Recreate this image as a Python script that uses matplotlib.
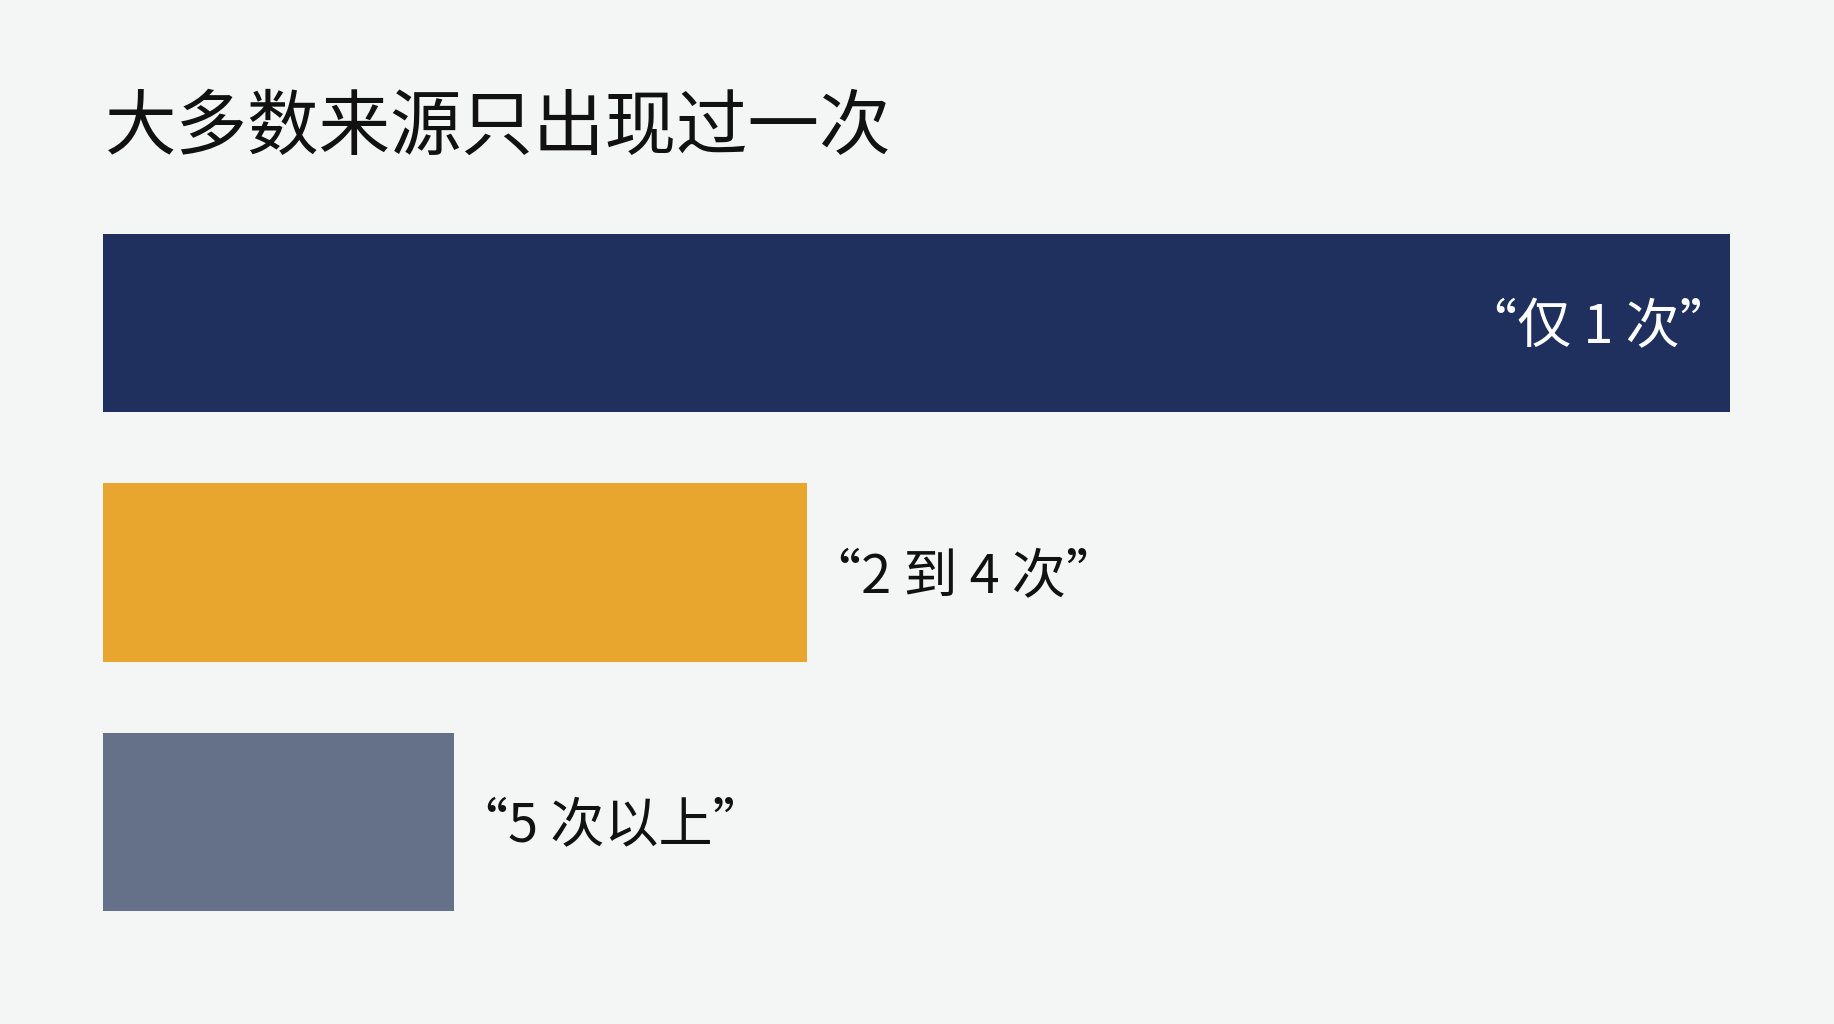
import matplotlib
matplotlib.use("Agg")
import matplotlib.pyplot as plt

plt.rcParams['font.family'] = ['Noto Sans CJK SC', 'DejaVu Sans']

# data (share of sources, longest bar = 100)
categories = ['“仅 1 次”', '“2 到 4 次”', '“5 次以上”']
values = [100, 43.3, 21.6]
colors = ['#1f305e', '#e8a62e', '#657188']
title = '大多数来源只出现过一次'

W, H = 1834, 1024
bg = '#f4f5f5'

fig = plt.figure(figsize=(W / 100, H / 100), dpi=100, facecolor=bg)

# axes box in pixels: left 103, right 1730, top 234, bottom 911
left, right, top, bottom = 103, 1730, 234, 911
ax = fig.add_axes([left / W, 1 - bottom / H, (right - left) / W, (bottom - top) / H])
ax.set_facecolor(bg)

bar_h = 0.714
ypos = list(range(len(values)))
ax.barh(ypos, values, height=bar_h, color=colors)
ax.set_xlim(0, max(values))
ax.set_ylim(len(values) - 1 + bar_h / 2, -bar_h / 2)
ax.axis('off')

# labels: first one inside the bar, the rest right of the bar
# (the CJK quote marks carry their own side bearing, so offsets are small)
for i, (v, lab) in enumerate(zip(values, categories)):
    if i == 0:
        ax.annotate(lab, (v, i), xytext=(4, -5), textcoords='offset pixels',
                    ha='right', va='center', color='white', fontsize=39)
    else:
        ax.annotate(lab, (v, i), xytext=(0, -5), textcoords='offset pixels',
                    ha='left', va='center', color='#111111', fontsize=39)

fig.text(105 / W, 1 - 128 / H, title, ha='left', va='center',
         fontsize=51.5, color='#111111')

fig.savefig('out.png', dpi=100, facecolor=bg)
